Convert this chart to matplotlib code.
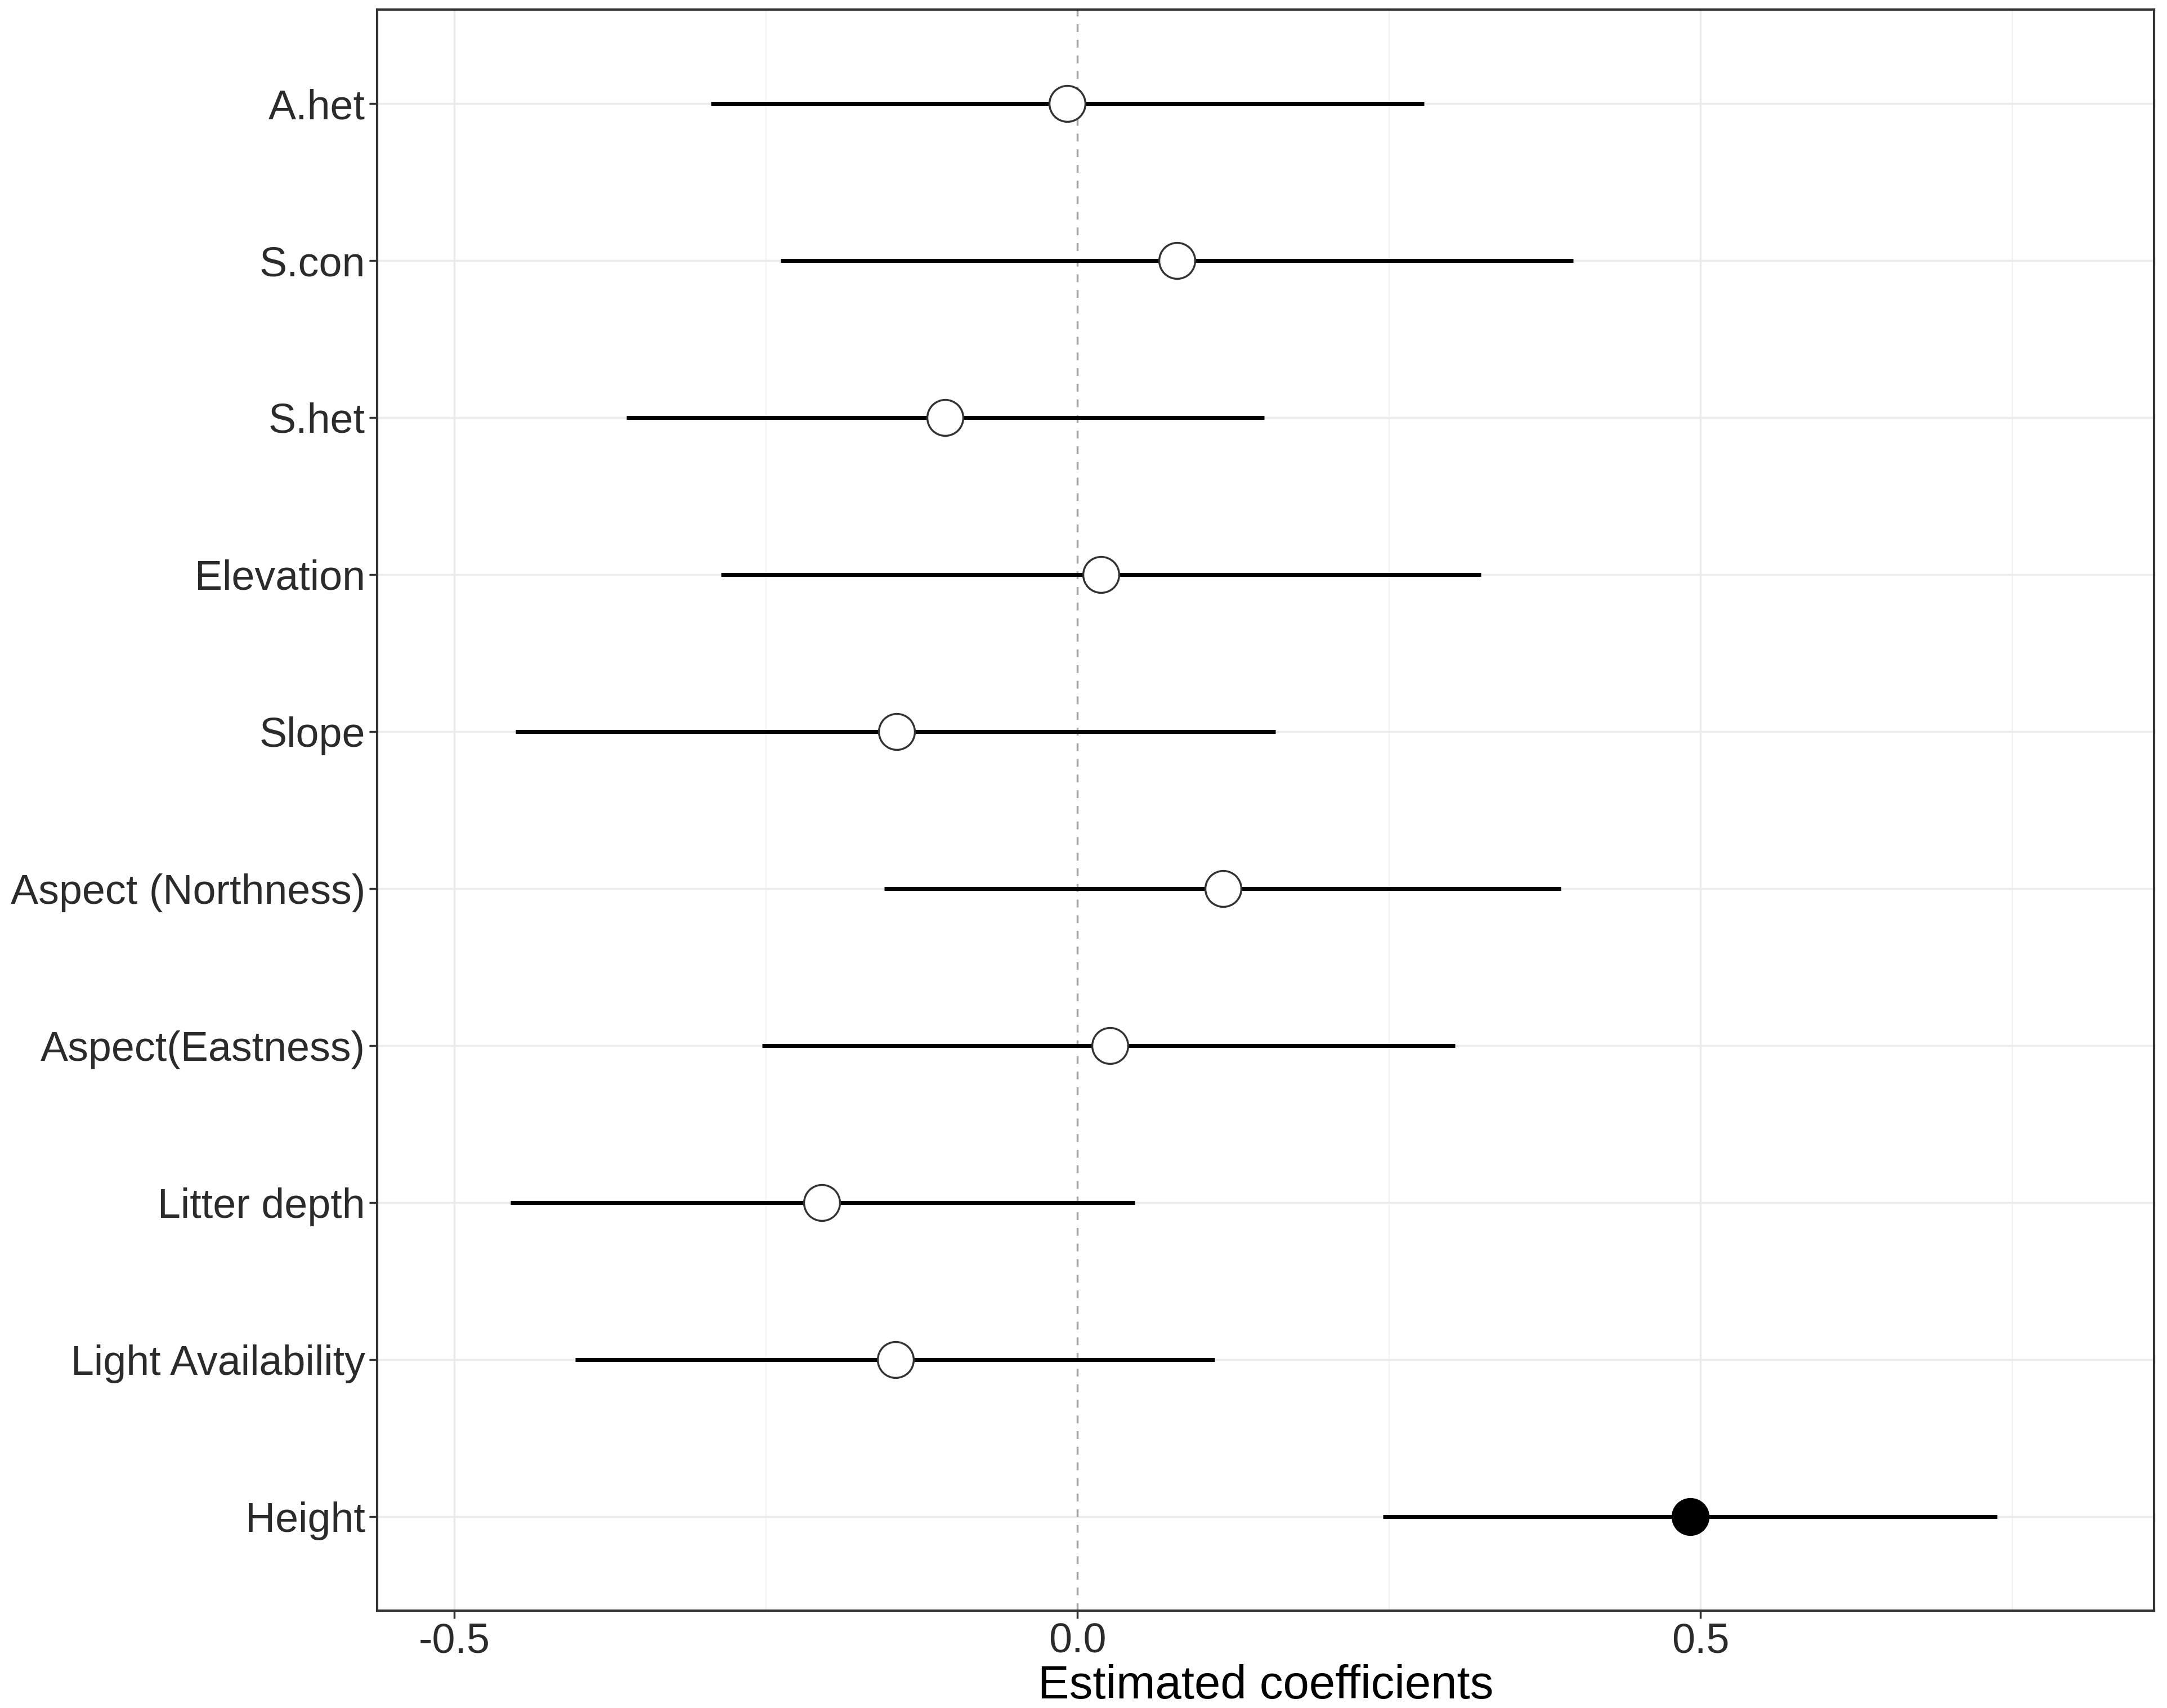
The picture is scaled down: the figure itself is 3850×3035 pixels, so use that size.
import matplotlib.pyplot as plt
import numpy as np

# Data: estimated coefficients with lower/upper interval bounds
variables = ['A.het', 'S.con', 'S.het', 'Elevation', 'Slope', 'Aspect (Northness)',
             'Aspect(Eastness)', 'Litter depth', 'Light Availability', 'Height']
estimate = [-0.008, 0.080, -0.106, 0.019, -0.145, 0.117, 0.026, -0.205, -0.146, 0.492]
lower = [-0.294, -0.238, -0.362, -0.286, -0.451, -0.155, -0.253, -0.455, -0.403, 0.245]
upper = [0.278, 0.398, 0.150, 0.324, 0.159, 0.388, 0.303, 0.046, 0.110, 0.738]
significant = [False, False, False, False, False, False, False, False, False, True]

plt.rcParams['font.family'] = ['Liberation Sans', 'DejaVu Sans']

fig = plt.figure(figsize=(38.5, 30.35), dpi=100)
ax = fig.add_axes([0.1740, 0.0570, 0.8200, 0.9375])

# rows top to bottom
ypos = np.arange(len(variables))[::-1]

# grid (theme_bw look)
for xv in [-0.25, 0.25, 0.75]:
    ax.axvline(xv, color='#f2f2f2', lw=1.5, zorder=0)
for xv in [-0.5, 0.5]:
    ax.axvline(xv, color='#ebebeb', lw=2.5, zorder=0)
for yv in ypos:
    ax.axhline(yv, color='#ebebeb', lw=2.5, zorder=0)

ax.axvline(0, color='#a6a6a6', lw=2.5, ls=(0, (4, 4)), zorder=1)

for y, est, lo, hi, sig in zip(ypos, estimate, lower, upper, significant):
    ax.plot([lo, hi], [y, y], color='black', lw=5, solid_capstyle='butt', zorder=2)
    ax.plot(est, y, 'o', ms=46, mfc='black' if sig else 'white',
            mec='#333333' if not sig else 'black', mew=2.5, zorder=3)

ax.set_xlim(-0.562, 0.864)
ax.set_ylim(-0.6, len(variables) - 0.4)
ax.set_xticks([-0.5, 0.0, 0.5])
ax.set_xticklabels(['-0.5', '0.0', '0.5'])
ax.set_yticks(ypos)
ax.set_yticklabels(variables)

ax.tick_params(axis='both', labelsize=53, labelcolor='#2b2b2b', color='#333333',
               length=10, width=2.5, pad=5)
ax.set_xlabel('Estimated coefficients', fontsize=60, color='black', labelpad=4)

for s in ax.spines.values():
    s.set_color('#333333')
    s.set_linewidth(3)

plt.savefig('out.png', dpi=100)
